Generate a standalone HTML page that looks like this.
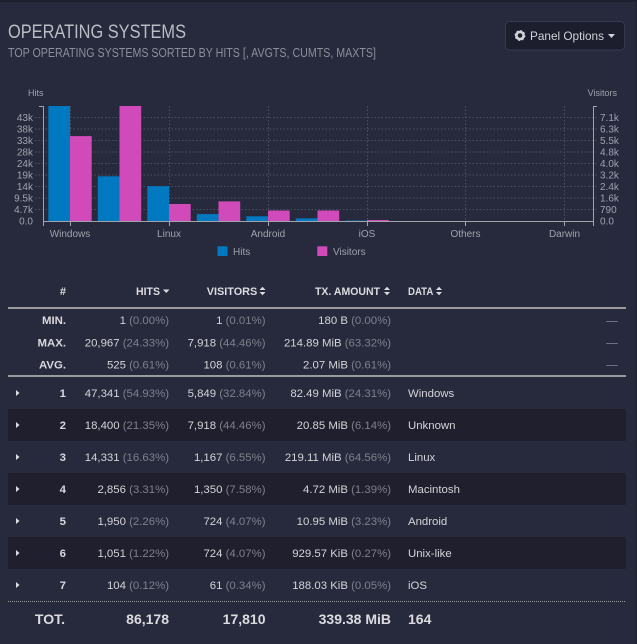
<!DOCTYPE html>
<html><head><meta charset="utf-8"><style>
html,body{margin:0;padding:0;background:#272a3d;}
svg{display:block;font-family:"Liberation Sans",Arial,sans-serif;}
</style></head><body>
<svg width="637" height="644" viewBox="0 0 637 644" xmlns="http://www.w3.org/2000/svg">
<rect x="0" y="0" width="637" height="644" fill="#272a3d"/>
<rect x="0" y="0" width="637" height="2" fill="#1e2030"/>
<rect x="636" y="0" width="1" height="644" fill="#1f2130"/>

<!-- Title -->
<text x="8" y="38" font-size="19" fill="#babcc4" textLength="178" lengthAdjust="spacingAndGlyphs">OPERATING SYSTEMS</text>
<text x="8" y="57" font-size="12.5" fill="#8c8e9a" textLength="368" lengthAdjust="spacingAndGlyphs">TOP OPERATING SYSTEMS SORTED BY HITS [, AVGTS, CUMTS, MAXTS]</text>

<!-- Panel options button -->
<rect x="505.5" y="21.5" width="119" height="28.5" rx="4" fill="#1d1e2d" stroke="#363a4e"/>
<g transform="translate(520,35.5)" fill="#d0d2d8">
<circle r="3.6" fill="none" stroke="#d0d2d8" stroke-width="2.6"/>
<circle r="4.6" fill="none" stroke="#d0d2d8" stroke-width="1.6" stroke-dasharray="1.8,1.8"/>
<circle r="1.3" fill="#1d1e2d"/>
</g>
<text x="530" y="40" font-size="12" fill="#d0d2d8" textLength="74" lengthAdjust="spacingAndGlyphs">Panel Options</text>
<path d="M608,34 L615,34 L611.5,38 Z" fill="#d0d2d8"/>

<!-- Chart axis titles -->
<text x="28" y="96" font-size="9" fill="#a0a2ac">Hits</text>
<text x="617" y="96" font-size="9" fill="#a0a2ac" text-anchor="end">Visitors</text>

<!-- Horizontal gridlines -->
<g stroke="#4c5064" stroke-width="1" stroke-dasharray="1.5,2">
<line x1="35" y1="117.5" x2="597" y2="117.5"/>
<line x1="35" y1="129" x2="597" y2="129"/>
<line x1="35" y1="140.5" x2="597" y2="140.5"/>
<line x1="35" y1="152" x2="597" y2="152"/>
<line x1="35" y1="163.5" x2="597" y2="163.5"/>
<line x1="35" y1="175" x2="597" y2="175"/>
<line x1="35" y1="186.5" x2="597" y2="186.5"/>
<line x1="35" y1="198" x2="597" y2="198"/>
<line x1="35" y1="209.5" x2="597" y2="209.5"/>
<!-- vertical -->
<line x1="70.5" y1="106" x2="70.5" y2="221"/>
<line x1="169.5" y1="106" x2="169.5" y2="221"/>
<line x1="268.5" y1="106" x2="268.5" y2="221"/>
<line x1="367.5" y1="106" x2="367.5" y2="221"/>
<line x1="465.5" y1="106" x2="465.5" y2="221"/>
<line x1="564.5" y1="106" x2="564.5" y2="221"/>
</g>

<!-- Bars: hits -->
<g fill="#0079c1">
<rect x="48.3" y="106" width="21.7" height="115"/>
<rect x="97.8" y="176.3" width="21.7" height="44.7"/>
<rect x="147.3" y="186.2" width="21.7" height="34.8"/>
<rect x="196.8" y="214.1" width="21.7" height="6.9"/>
<rect x="246.3" y="216.3" width="21.7" height="4.7"/>
<rect x="295.8" y="218.4" width="21.7" height="2.6"/>
<rect x="345.3" y="220.6" width="21.7" height="0.4"/>
</g>
<!-- Bars: visitors -->
<g fill="#d04bb9">
<rect x="70" y="136.1" width="21.7" height="84.9"/>
<rect x="119.5" y="106" width="21.7" height="115"/>
<rect x="169" y="204" width="21.7" height="17"/>
<rect x="218.5" y="201.4" width="21.7" height="19.6"/>
<rect x="268" y="210.5" width="21.7" height="10.5"/>
<rect x="317.5" y="210.5" width="21.7" height="10.5"/>
<rect x="367" y="220" width="21.7" height="1"/>
</g>

<!-- Axes -->
<g stroke="#a2a4ac" stroke-width="1" fill="none">
<path d="M39,106.5 H43.5 V226"/>
<path d="M597,106.5 H593.5 V226"/>
<line x1="43" y1="221.5" x2="594" y2="221.5"/>
<line x1="70.5" y1="221" x2="70.5" y2="226"/>
<line x1="169.5" y1="221" x2="169.5" y2="226"/>
<line x1="268.5" y1="221" x2="268.5" y2="226"/>
<line x1="367.5" y1="221" x2="367.5" y2="226"/>
<line x1="465.5" y1="221" x2="465.5" y2="226"/>
<line x1="564.5" y1="221" x2="564.5" y2="226"/>
</g>

<!-- Left tick labels -->
<g font-size="10" fill="#a0a2ac" text-anchor="end">
<text x="33" y="121">43k</text>
<text x="33" y="132.5">38k</text>
<text x="33" y="144">33k</text>
<text x="33" y="155.5">28k</text>
<text x="33" y="167">24k</text>
<text x="33" y="178.5">19k</text>
<text x="33" y="190">14k</text>
<text x="33" y="201.5">9.5k</text>
<text x="33" y="213">4.7k</text>
<text x="33" y="224.5">0.0</text>
</g>
<!-- Right tick labels -->
<g font-size="10" fill="#a0a2ac">
<text x="600" y="121">7.1k</text>
<text x="600" y="132.5">6.3k</text>
<text x="600" y="144">5.5k</text>
<text x="600" y="155.5">4.8k</text>
<text x="600" y="167">4.0k</text>
<text x="600" y="178.5">3.2k</text>
<text x="600" y="190">2.4k</text>
<text x="600" y="201.5">1.6k</text>
<text x="600" y="213">790</text>
<text x="600" y="224.5">0.0</text>
</g>
<!-- X labels -->
<g font-size="10" fill="#a0a2ac" text-anchor="middle">
<text x="70" y="237">Windows</text>
<text x="169" y="237">Linux</text>
<text x="268" y="237">Android</text>
<text x="367" y="237">iOS</text>
<text x="465.5" y="237">Others</text>
<text x="564.5" y="237">Darwin</text>
</g>

<!-- Legend -->
<rect x="217.5" y="246.3" width="10" height="9.7" fill="#0079c1"/>
<text x="233" y="255" font-size="10" fill="#a0a2ac">Hits</text>
<rect x="317.3" y="246.3" width="10" height="9.7" fill="#d04bb9"/>
<text x="333" y="255" font-size="10" fill="#a0a2ac">Visitors</text>

<!-- Table header -->
<g font-size="11" font-weight="bold" fill="#dcdce0">
<text x="66" y="295" text-anchor="end">#</text>
<text x="136" y="295" textLength="24" lengthAdjust="spacingAndGlyphs">HITS</text>
<text x="206.7" y="295" textLength="50.6" lengthAdjust="spacingAndGlyphs">VISITORS</text>
<text x="315" y="295" textLength="65" lengthAdjust="spacingAndGlyphs">TX. AMOUNT</text>
<text x="408" y="295" textLength="25.3" lengthAdjust="spacingAndGlyphs">DATA</text>
</g>
<g fill="#dcdce0">
<path d="M163,289.5 L169.5,289.5 L166.25,293 Z"/>
<path d="M259.5,290 L265.5,290 L262.5,286.8 Z M259.5,292 L265.5,292 L262.5,295.2 Z"/>
<path d="M384,290 L390,290 L387,286.8 Z M384,292 L390,292 L387,295.2 Z"/>
<path d="M436,290 L442,290 L439,286.8 Z M436,292 L442,292 L439,295.2 Z"/>
</g>
<rect x="8" y="307" width="618" height="2" fill="#9b9b9e"/>

<!-- MIN/MAX/AVG -->
<g font-size="11.4">
<g font-weight="bold" fill="#d8d8dc" text-anchor="end">
<text x="66" y="324">MIN.</text>
<text x="66" y="346.5">MAX.</text>
<text x="66" y="368.5">AVG.</text>
</g>
<g text-anchor="end" fill="#d4d4d8">
<text x="169" y="324">1 <tspan fill="#7e808c">(0.00%)</tspan></text>
<text x="265.5" y="324">1 <tspan fill="#7e808c">(0.01%)</tspan></text>
<text x="391" y="324">180 B <tspan fill="#7e808c">(0.00%)</tspan></text>
<text x="169" y="346.5">20,967 <tspan fill="#7e808c">(24.33%)</tspan></text>
<text x="265.5" y="346.5">7,918 <tspan fill="#7e808c">(44.46%)</tspan></text>
<text x="391" y="346.5">214.89 MiB <tspan fill="#7e808c">(63.32%)</tspan></text>
<text x="169" y="368.5">525 <tspan fill="#7e808c">(0.61%)</tspan></text>
<text x="265.5" y="368.5">108 <tspan fill="#7e808c">(0.61%)</tspan></text>
<text x="391" y="368.5">2.07 MiB <tspan fill="#7e808c">(0.61%)</tspan></text>
</g>
</g>
<g stroke="#6c6f7e" stroke-width="1">
<line x1="606" y1="321.5" x2="618" y2="321.5"/>
<line x1="606" y1="343.5" x2="618" y2="343.5"/>
<line x1="606" y1="365.5" x2="618" y2="365.5"/>
</g>
<rect x="8" y="375" width="618" height="2" fill="#9b9b9e"/>

<!-- Row backgrounds -->
<g fill="#1f1f2e">
<rect x="8" y="409" width="618" height="32"/>
<rect x="8" y="473" width="618" height="32"/>
<rect x="8" y="537" width="618" height="32"/>
</g>

<!-- Triangles -->
<g fill="#dcdce0">
<path d="M16,390 L19.5,393 L16,396 Z"/>
<path d="M16,422 L19.5,425 L16,428 Z"/>
<path d="M16,454 L19.5,457 L16,460 Z"/>
<path d="M16,486 L19.5,489 L16,492 Z"/>
<path d="M16,518 L19.5,521 L16,524 Z"/>
<path d="M16,550 L19.5,553 L16,556 Z"/>
<path d="M16,582 L19.5,585 L16,588 Z"/>
</g>

<!-- Data rows -->
<g font-size="11.4">
<g font-weight="bold" fill="#d8d8dc" text-anchor="end">
<text x="66" y="397">1</text>
<text x="66" y="429">2</text>
<text x="66" y="461">3</text>
<text x="66" y="493">4</text>
<text x="66" y="525">5</text>
<text x="66" y="557">6</text>
<text x="66" y="589">7</text>
</g>
<g text-anchor="end" fill="#d4d4d8">
<text x="169" y="397">47,341 <tspan fill="#7e808c">(54.93%)</tspan></text>
<text x="265.5" y="397">5,849 <tspan fill="#7e808c">(32.84%)</tspan></text>
<text x="391" y="397">82.49 MiB <tspan fill="#7e808c">(24.31%)</tspan></text>

<text x="169" y="429">18,400 <tspan fill="#7e808c">(21.35%)</tspan></text>
<text x="265.5" y="429">7,918 <tspan fill="#7e808c">(44.46%)</tspan></text>
<text x="391" y="429">20.85 MiB <tspan fill="#7e808c">(6.14%)</tspan></text>

<text x="169" y="461">14,331 <tspan fill="#7e808c">(16.63%)</tspan></text>
<text x="265.5" y="461">1,167 <tspan fill="#7e808c">(6.55%)</tspan></text>
<text x="391" y="461">219.11 MiB <tspan fill="#7e808c">(64.56%)</tspan></text>

<text x="169" y="493">2,856 <tspan fill="#7e808c">(3.31%)</tspan></text>
<text x="265.5" y="493">1,350 <tspan fill="#7e808c">(7.58%)</tspan></text>
<text x="391" y="493">4.72 MiB <tspan fill="#7e808c">(1.39%)</tspan></text>

<text x="169" y="525">1,950 <tspan fill="#7e808c">(2.26%)</tspan></text>
<text x="265.5" y="525">724 <tspan fill="#7e808c">(4.07%)</tspan></text>
<text x="391" y="525">10.95 MiB <tspan fill="#7e808c">(3.23%)</tspan></text>

<text x="169" y="557">1,051 <tspan fill="#7e808c">(1.22%)</tspan></text>
<text x="265.5" y="557">724 <tspan fill="#7e808c">(4.07%)</tspan></text>
<text x="391" y="557">929.57 KiB <tspan fill="#7e808c">(0.27%)</tspan></text>

<text x="169" y="589">104 <tspan fill="#7e808c">(0.12%)</tspan></text>
<text x="265.5" y="589">61 <tspan fill="#7e808c">(0.34%)</tspan></text>
<text x="391" y="589">188.03 KiB <tspan fill="#7e808c">(0.05%)</tspan></text>
</g>
<g fill="#d4d4d8">
<text x="408" y="397">Windows</text>
<text x="408" y="429">Unknown</text>
<text x="408" y="461">Linux</text>
<text x="408" y="493">Macintosh</text>
<text x="408" y="525">Android</text>
<text x="408" y="557">Unix-like</text>
<text x="408" y="589">iOS</text>
</g>
</g>

<!-- Total separator -->
<line x1="8" y1="601.5" x2="626" y2="601.5" stroke="#9b9b9e" stroke-width="1" stroke-dasharray="1,1"/>

<!-- Totals -->
<g font-size="14" font-weight="bold" fill="#dcdce0">
<text x="65" y="624" text-anchor="end">TOT.</text>
<text x="169" y="624" text-anchor="end">86,178</text>
<text x="265.5" y="624" text-anchor="end">17,810</text>
<text x="391" y="624" text-anchor="end">339.38 MiB</text>
<text x="408" y="624">164</text>
</g>
</svg>
</body></html>
